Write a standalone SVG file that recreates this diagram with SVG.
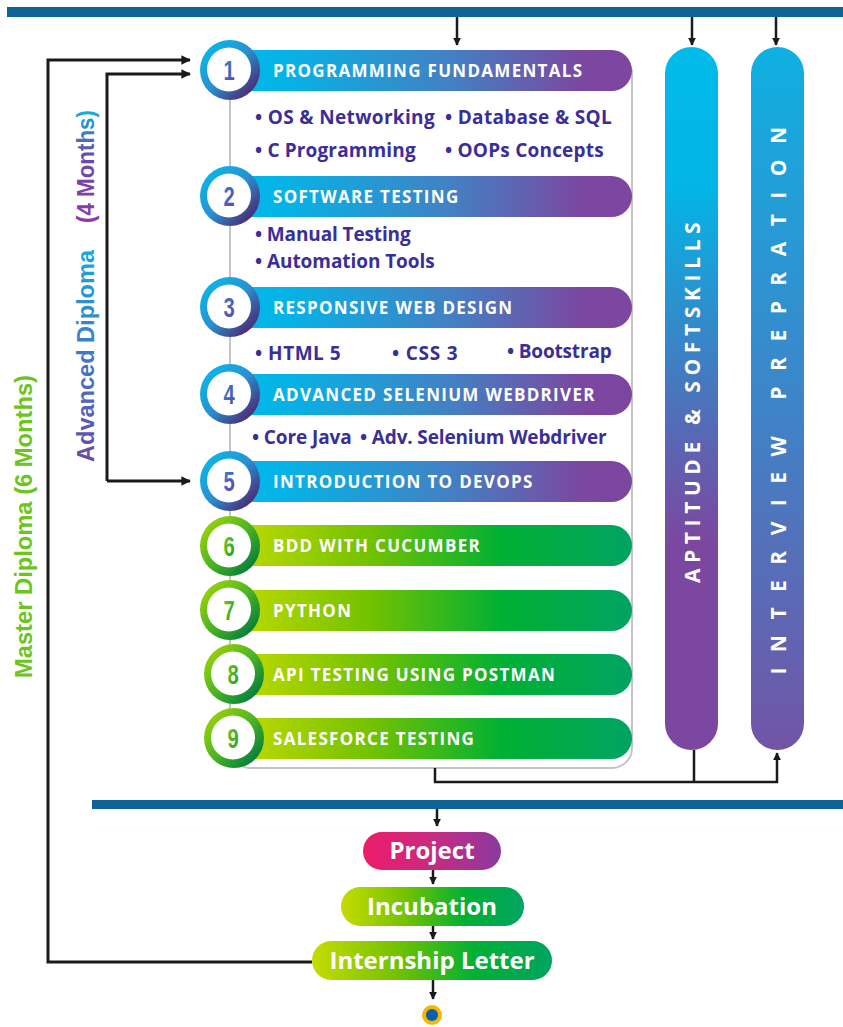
<svg xmlns="http://www.w3.org/2000/svg" width="843" height="1027" viewBox="0 0 843 1027">
<defs>
<linearGradient id="gBluePill" x1="0" y1="0" x2="1" y2="0"><stop offset="0" stop-color="#00b9ec"/><stop offset="0.15" stop-color="#05b3e6"/><stop offset="0.55" stop-color="#4281c4"/><stop offset="0.88" stop-color="#7b47a0"/><stop offset="1" stop-color="#7d46a0"/></linearGradient>
<linearGradient id="gGreenPill" x1="0" y1="0" x2="1" y2="0"><stop offset="0" stop-color="#c6dc00"/><stop offset="0.35" stop-color="#74c200"/><stop offset="0.68" stop-color="#00b034"/><stop offset="1" stop-color="#00a462"/></linearGradient>
<linearGradient id="gBlueRing" x1="0" y1="0" x2="1" y2="1"><stop offset="0" stop-color="#00c2ef"/><stop offset="0.5" stop-color="#2a8fd0"/><stop offset="0.85" stop-color="#4b2f78"/><stop offset="1" stop-color="#3e2460"/></linearGradient>
<linearGradient id="gGreenRing" x1="0" y1="0" x2="1" y2="1"><stop offset="0" stop-color="#b0da00"/><stop offset="0.5" stop-color="#4cb424"/><stop offset="0.85" stop-color="#07823a"/><stop offset="1" stop-color="#046a2c"/></linearGradient>
<linearGradient id="gNumBlue" x1="0" y1="0" x2="1" y2="1"><stop offset="0" stop-color="#1d8fe0"/><stop offset="1" stop-color="#6a3ea0"/></linearGradient>
<linearGradient id="gNumGreen" x1="0" y1="0" x2="1" y2="1"><stop offset="0" stop-color="#7ccd1c"/><stop offset="1" stop-color="#1a9a34"/></linearGradient>
<linearGradient id="gApt" x1="0" y1="0" x2="0" y2="1"><stop offset="0" stop-color="#00bbea"/><stop offset="0.2" stop-color="#03b5e6"/><stop offset="0.7" stop-color="#7b48a0"/><stop offset="1" stop-color="#7b47a0"/></linearGradient>
<linearGradient id="gInt" x1="0" y1="0" x2="0" y2="1"><stop offset="0" stop-color="#0fb0e2"/><stop offset="0.5" stop-color="#3d85c8"/><stop offset="1" stop-color="#7254a6"/></linearGradient>
<linearGradient id="gProject" x1="0" y1="0" x2="1" y2="0"><stop offset="0" stop-color="#ee1c6a"/><stop offset="0.5" stop-color="#c82a80"/><stop offset="1" stop-color="#8a3aa0"/></linearGradient>
<linearGradient id="gAdv" x1="0" y1="0" x2="1" y2="0"><stop offset="0" stop-color="#6a4aa8"/><stop offset="1" stop-color="#18a8e0"/></linearGradient>
<linearGradient id="gMonths" x1="0" y1="0" x2="1" y2="0"><stop offset="0" stop-color="#8a3e9e"/><stop offset="0.6" stop-color="#6a4aa8"/><stop offset="1" stop-color="#10b0e6"/></linearGradient>
<marker id="arr" viewBox="0 0 10 10" refX="9" refY="5" markerWidth="3.2" markerHeight="3.2" orient="auto" markerUnits="strokeWidth"><path d="M0,0 L10,5 L0,10 z" fill="#1a1a1a"/></marker>
</defs>
<style>
.bar{fill:#106396}
.pt{font-family:"Open Sans","Noto Sans",sans-serif;font-weight:700;font-size:17px;fill:#ffffff;letter-spacing:1.3px}
.it{font-family:"Open Sans","Noto Sans",sans-serif;font-weight:700;font-size:19px;fill:#3a2e98;letter-spacing:0.3px}
.num{font-family:"Liberation Sans",Arial,sans-serif;font-weight:700;font-size:28px;text-anchor:middle}
.ln{fill:none;stroke:#1a1a1a;stroke-width:2.5}
.lnl{fill:none;stroke:#1a1a1a;stroke-width:3}
.vt{font-family:"Open Sans","Noto Sans",sans-serif;font-weight:700;font-size:21px;fill:#ffffff;text-anchor:middle}
.bt{font-family:"Open Sans","Noto Sans",sans-serif;font-weight:700;font-size:24px;fill:#ffffff;text-anchor:middle}
.side{font-family:"Liberation Sans",Arial,sans-serif;font-weight:700;font-size:23px}
</style>

<rect class="bar" x="7" y="7" width="836" height="10"/>
<rect class="bar" x="92" y="800" width="751" height="9"/>

<g id="frame">
<path d="M230,70 H632 V748 A20,20 0 0 1 612,768 H250 A20,20 0 0 1 230,748 Z" fill="#ffffff" stroke="#c4c4c4" stroke-width="2"/>
</g>

<g id="side-labels">
<text class="side" fill="url(#gAdv)" textLength="212" lengthAdjust="spacingAndGlyphs" transform="translate(94,462) rotate(-90)">Advanced Diploma</text>
<text class="side" fill="url(#gMonths)" textLength="113" lengthAdjust="spacingAndGlyphs" transform="translate(94,223) rotate(-90)">(4 Months)</text>
<text class="side" fill="#6cc41e" textLength="303" lengthAdjust="spacingAndGlyphs" transform="translate(32,678) rotate(-90)">Master Diploma (6 Months)</text>
</g>

<g id="connectors">
<path class="ln" d="M457,17 V45" marker-end="url(#arr)"/>
<path class="ln" d="M692,17 V45" marker-end="url(#arr)"/>
<path class="ln" d="M776,17 V45" marker-end="url(#arr)"/>
<path class="lnl" d="M312,962 H48 V60 H190" marker-end="url(#arr)"/>
<path class="lnl" d="M107,481 V74 H190" marker-end="url(#arr)"/>
<path class="lnl" d="M107,481 H190" marker-end="url(#arr)"/>
<path class="ln" d="M435,768 V782 H777 V753" marker-end="url(#arr)"/>
<path class="ln" d="M694,750 V782"/>
<path class="ln" d="M437,809 V826" marker-end="url(#arr)"/>
<path class="ln" d="M433,870 V884" marker-end="url(#arr)"/>
<path class="ln" d="M433,926 V939" marker-end="url(#arr)"/>
<path class="ln" d="M433,980 V999" marker-end="url(#arr)"/>
</g>

<g id="n1">
<rect x="225" y="50" width="407" height="41" rx="20.5" fill="url(#gBluePill)"/>
<text class="pt" x="273" y="76.5">PROGRAMMING FUNDAMENTALS</text>
<circle cx="230" cy="70" r="30" fill="url(#gBlueRing)"/>
<circle cx="229" cy="69.5" r="22" fill="#ffffff"/>
<text class="num" fill="url(#gNumBlue)" transform="translate(229,79.5) scale(0.72,1)">1</text>
</g>
<g id="n1-items">
<text class="it" x="255" y="124" textLength="180">• OS &amp; Networking</text>
<text class="it" x="445" y="124" textLength="167">• Database &amp; SQL</text>
<text class="it" x="255" y="157" textLength="161">• C Programming</text>
<text class="it" x="445" y="157" textLength="159">• OOPs Concepts</text>
</g>

<g id="n2">
<rect x="225" y="176" width="407" height="41" rx="20.5" fill="url(#gBluePill)"/>
<text class="pt" x="273" y="202.5">SOFTWARE TESTING</text>
<circle cx="230" cy="196" r="30" fill="url(#gBlueRing)"/>
<circle cx="229" cy="195.5" r="22" fill="#ffffff"/>
<text class="num" fill="url(#gNumBlue)" transform="translate(229,205.5) scale(0.72,1)">2</text>
</g>
<g id="n2-items">
<text class="it" x="255" y="241" textLength="156">• Manual Testing</text>
<text class="it" x="255" y="268" textLength="180">• Automation Tools</text>
</g>

<g id="n3">
<rect x="225" y="287" width="407" height="41" rx="20.5" fill="url(#gBluePill)"/>
<text class="pt" x="273" y="313.5">RESPONSIVE WEB DESIGN</text>
<circle cx="230" cy="307" r="30" fill="url(#gBlueRing)"/>
<circle cx="229" cy="306.5" r="22" fill="#ffffff"/>
<text class="num" fill="url(#gNumBlue)" transform="translate(229,316.5) scale(0.72,1)">3</text>
</g>
<g id="n3-items">
<text class="it" x="255" y="360" textLength="86">• HTML 5</text>
<text class="it" x="392" y="360" textLength="66">• CSS 3</text>
<text class="it" x="507" y="358" textLength="105">• Bootstrap</text>
</g>

<g id="n4">
<rect x="225" y="374" width="407" height="41" rx="20.5" fill="url(#gBluePill)"/>
<text class="pt" x="273" y="400.5">ADVANCED SELENIUM WEBDRIVER</text>
<circle cx="230" cy="394" r="30" fill="url(#gBlueRing)"/>
<circle cx="229" cy="393.5" r="22" fill="#ffffff"/>
<text class="num" fill="url(#gNumBlue)" transform="translate(229,403.5) scale(0.72,1)">4</text>
</g>
<g id="n4-items">
<text class="it" x="252" y="444" textLength="100">• Core Java</text>
<text class="it" x="360" y="444" textLength="247">• Adv. Selenium Webdriver</text>
</g>

<g id="n5">
<rect x="225" y="461" width="407" height="41" rx="20.5" fill="url(#gBluePill)"/>
<text class="pt" x="273" y="487.5">INTRODUCTION TO DEVOPS</text>
<circle cx="230" cy="481" r="30" fill="url(#gBlueRing)"/>
<circle cx="229" cy="480.5" r="22" fill="#ffffff"/>
<text class="num" fill="url(#gNumBlue)" transform="translate(229,490.5) scale(0.72,1)">5</text>
</g>

<g id="n6">
<rect x="225" y="525" width="407" height="41" rx="20.5" fill="url(#gGreenPill)"/>
<text class="pt" x="273" y="551.5">BDD WITH CUCUMBER</text>
<circle cx="230" cy="546" r="30" fill="url(#gGreenRing)"/>
<circle cx="229" cy="545.5" r="22" fill="#ffffff"/>
<text class="num" fill="url(#gNumGreen)" transform="translate(229,555.5) scale(0.72,1)">6</text>
</g>

<g id="n7">
<rect x="225" y="590" width="407" height="41" rx="20.5" fill="url(#gGreenPill)"/>
<text class="pt" x="273" y="616.5">PYTHON</text>
<circle cx="230" cy="610" r="30" fill="url(#gGreenRing)"/>
<circle cx="229" cy="609.5" r="22" fill="#ffffff"/>
<text class="num" fill="url(#gNumGreen)" transform="translate(229,619.5) scale(0.72,1)">7</text>
</g>

<g id="n8">
<rect x="228" y="654" width="404" height="41" rx="20.5" fill="url(#gGreenPill)"/>
<text class="pt" x="273" y="680.5">API TESTING USING POSTMAN</text>
<circle cx="234" cy="674" r="30" fill="url(#gGreenRing)"/>
<circle cx="233" cy="673.5" r="22" fill="#ffffff"/>
<text class="num" fill="url(#gNumGreen)" transform="translate(233,683.5) scale(0.72,1)">8</text>
</g>

<g id="n9">
<rect x="228" y="718" width="404" height="41" rx="20.5" fill="url(#gGreenPill)"/>
<text class="pt" x="273" y="744.5">SALESFORCE TESTING</text>
<circle cx="234" cy="738" r="30" fill="url(#gGreenRing)"/>
<circle cx="233" cy="737.5" r="22" fill="#ffffff"/>
<text class="num" fill="url(#gNumGreen)" transform="translate(233,747.5) scale(0.72,1)">9</text>
</g>

<g id="aptitude">
<rect x="665" y="47" width="53" height="703" rx="26.5" fill="url(#gApt)"/>
<text class="vt" letter-spacing="5.6" transform="translate(699.5,400) rotate(-90)">APTITUDE &amp; SOFTSKILLS</text>
</g>

<g id="interview">
<rect x="751" y="47" width="53" height="703" rx="26.5" fill="url(#gInt)"/>
<text class="vt" letter-spacing="15.5" transform="translate(785.5,393) rotate(-90)">INTERVIEW PREPRATION</text>
</g>

<g id="project">
<rect x="363" y="832" width="138" height="38" rx="19" fill="url(#gProject)"/>
<text class="bt" x="432" y="859">Project</text>
</g>
<g id="incubation">
<rect x="341" y="887" width="183" height="39" rx="19.5" fill="url(#gGreenPill)"/>
<text class="bt" x="432" y="915">Incubation</text>
</g>
<g id="internship">
<rect x="312" y="941" width="240" height="39" rx="19.5" fill="url(#gGreenPill)"/>
<text class="bt" x="432" y="969">Internship Letter</text>
</g>
<g id="end">
<circle cx="432" cy="1015" r="10" fill="#f5b800"/>
<circle cx="432" cy="1015" r="6" fill="#0b5fae"/>
</g>
</svg>
